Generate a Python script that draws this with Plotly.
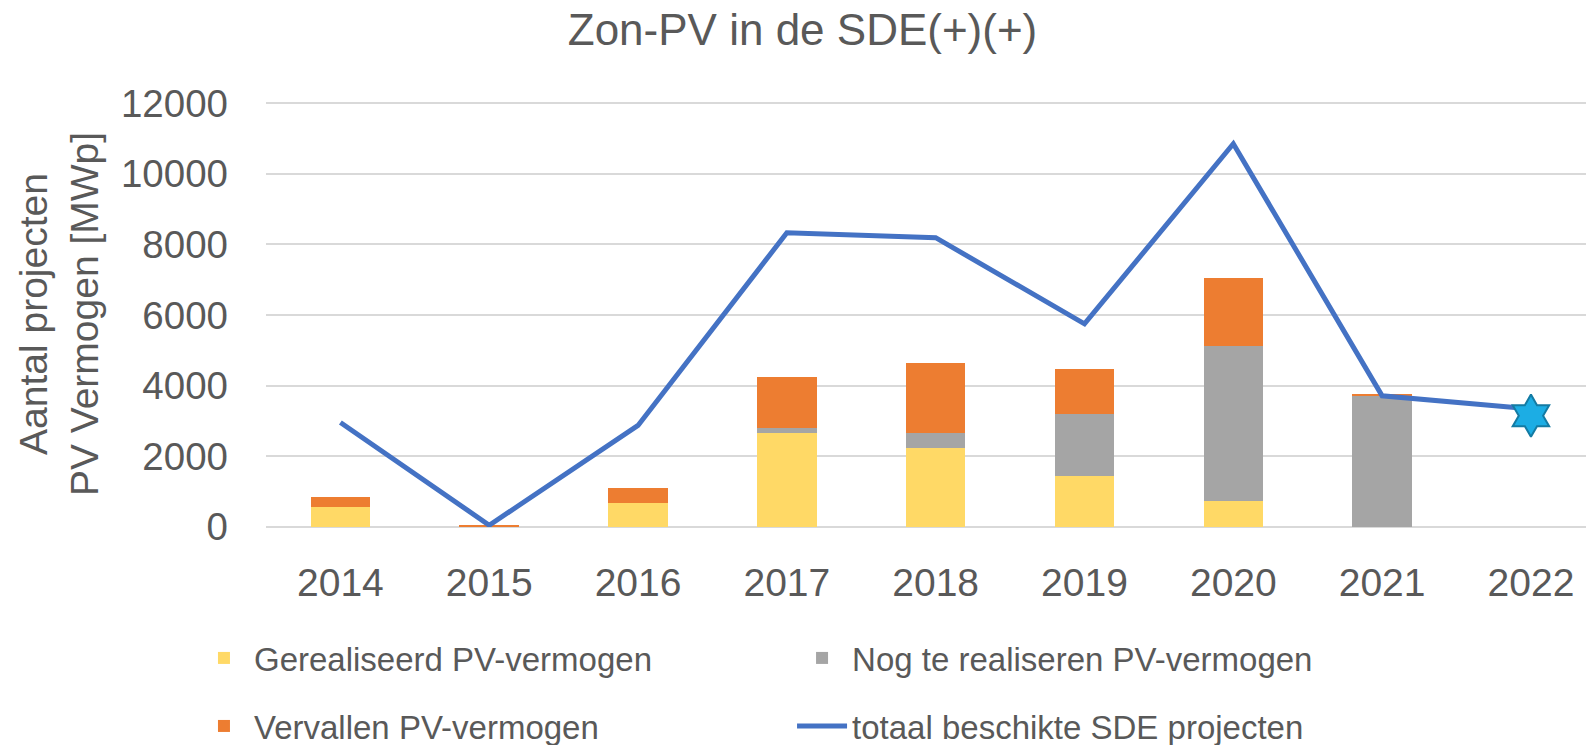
import plotly.graph_objects as go

years = ["2014", "2015", "2016", "2017", "2018", "2019", "2020", "2021", "2022"]
gerealiseerd = [560, 10, 685, 2670, 2240, 1455, 740, 0, None]
nog_te_realiseren = [0, 10, 0, 130, 420, 1745, 4380, 3735, None]
vervallen = [300, 10, 430, 1450, 1985, 1270, 1920, 40, None]
totaal = [2960, 50, 2875, 8330, 8190, 5750, 10850, 3715, 3340]
star_year = ["2022"]
star_value = [3150]

FONT = "Liberation Sans"
GREY = "#595959"
LEG_FONT = dict(size=33, color=GREY)

fig = go.Figure()
fig.add_trace(go.Bar(x=years, y=gerealiseerd, name="Gerealiseerd PV-vermogen",
                     marker=dict(color="#FFD966", line=dict(width=0)), legend="legend"))
fig.add_trace(go.Bar(x=years, y=nog_te_realiseren, name="Nog te realiseren PV-vermogen",
                     marker=dict(color="#A5A5A5", line=dict(width=0)), legend="legend2"))
fig.add_trace(go.Bar(x=years, y=vervallen, name="Vervallen PV-vermogen",
                     marker=dict(color="#ED7D31", line=dict(width=0)), legend="legend3"))
fig.add_trace(go.Scatter(x=years, y=totaal, name="totaal beschikte SDE projecten",
                         mode="lines", line=dict(color="#4472C4", width=5), legend="legend4"))
fig.add_trace(go.Scatter(x=star_year, y=star_value, mode="markers", showlegend=False,
                         marker=dict(symbol="hexagram", size=32, color="#1CADE4",
                                     line=dict(color="#147BA3", width=2))))

def leg(x, y):
    return dict(orientation="h", xref="container", yref="container",
                x=x, xanchor="left", y=y, yanchor="middle",
                itemwidth=50, font=LEG_FONT, bgcolor="rgba(0,0,0,0)")

fig.update_layout(
    width=1586, height=745,
    barmode="stack", bargap=0.6,
    paper_bgcolor="white", plot_bgcolor="white",
    margin=dict(l=266, r=0, t=101, b=218, autoexpand=False),
    font=dict(family=FONT, size=36, color=GREY),
    title=dict(text="Zon-PV in de SDE(+)(+)", x=0.506, xanchor="center", y=0.960, yanchor="middle",
               automargin=False, font=dict(family=FONT, size=44, color=GREY)),
    xaxis=dict(range=[-0.5, 8.37], showgrid=False, showline=False, ticks="", automargin=False,
               tickfont=dict(size=39, color=GREY), ticklabelstandoff=29),
    yaxis=dict(range=[0, 12060], tickvals=[0, 2000, 4000, 6000, 8000, 10000, 12000],
               ticktext=["0", "2000", "4000", "6000", "8000", "10000", "12000"],
               showgrid=True, gridcolor="#D9D9D9", gridwidth=1.5, zeroline=True,
               zerolinecolor="#D9D9D9", zerolinewidth=1.5, showline=False, ticks="",
               automargin=False,
               tickfont=dict(size=38.5, color=GREY), ticklabelstandoff=37,
               title=dict(text="Aantal projecten<br>PV Vermogen [MWp]", standoff=10,
                          font=dict(size=39, color=GREY))),
    legend=leg(0.1223, 0.1168),
    legend2=leg(0.4994, 0.1168),
    legend3=leg(0.1223, 0.0255),
    legend4=leg(0.4994, 0.0255),
)

fig.write_html("out.html", config={"displayModeBar": False},
               post_script="document.body.style.margin='0px';")
